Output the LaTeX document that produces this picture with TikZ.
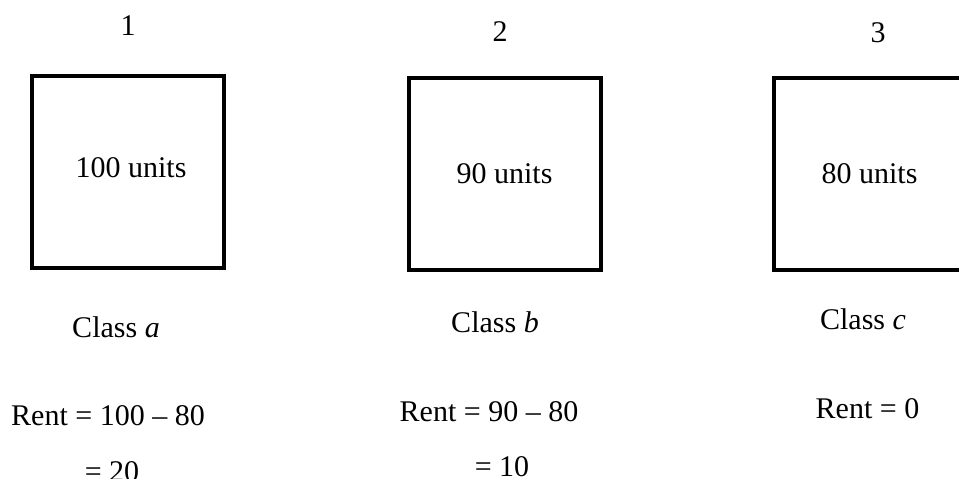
\documentclass[tikz,border=0pt]{standalone}
\usepackage{fontspec}
\setmainfont{Liberation Serif}
\begin{document}
\begin{tikzpicture}[x=1pt,y=-1pt,
  plot/.style={draw=black,line width=3.3pt,minimum width=192pt,minimum height=192pt,inner sep=0pt},
  txt/.style={anchor=base,inner sep=0pt,font=\fontsize{30}{36}\selectfont}]
\useasboundingbox (0,0) rectangle (959,479);
\clip (0,0) rectangle (959,479);
% numbers
\node[txt] (n1) at (128,35) {1};
\node[txt] (n2) at (500,41) {2};
\node[txt] (n3) at (878,42) {3};
% plots
\node[plot] (p1) at (128,172) {};
\node[plot] (p2) at (505,174) {};
\node[plot] (p3) at (870,174) {};
\node[txt] (u1) at (131,177) {100 units};
\node[txt] (u2) at (504.5,183) {90 units};
\node[txt] (u3) at (869.5,183) {80 units};
% classes
\node[txt] (c1) at (116,337) {Class \textit{a}};
\node[txt] (c2) at (495,332) {Class \textit{b}};
\node[txt] (c3) at (863,329) {Class \textit{c}};
% rents
\node[txt] (r1) at (108,425) {Rent = 100 – 80};
\node[txt] (s1) at (112,481) {= 20};
\node[txt] (r2) at (489,421) {Rent = 90 – 80};
\node[txt] (s2) at (502,476) {= 10};
\node[txt] (r3) at (867.5,418) {Rent = 0};
\end{tikzpicture}
\end{document}
